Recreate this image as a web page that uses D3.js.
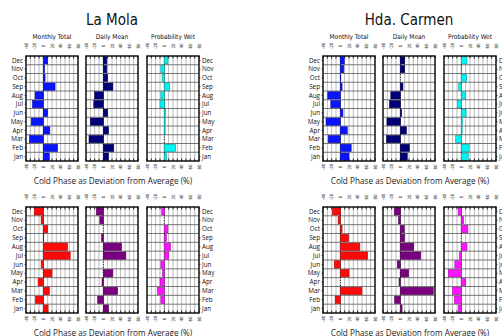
<!DOCTYPE html>
<html>
<head>
<meta charset="utf-8">
<script src="https://cdn.jsdelivr.net/npm/d3@7"></script>
<style>
  body { margin: 0; background: #fff; }
  svg { display: block; }
  .narrow { font-family: "Liberation Sans Narrow", "DejaVu Sans Condensed", "Roboto", sans-serif; }
  .reg { font-family: "Open Sans", "Liberation Sans", sans-serif; }
</style>
</head>
<body>
<svg id="chart" width="502" height="336"></svg>
<script>
// Months listed Jan..Dec; drawn with Dec at the top
const months = ["Jan","Feb","Mar","Apr","May","Jun","Jul","Aug","Sep","Oct","Nov","Dec"];
const tickValues = [-40, -20, 0, 20, 40, 60, 80];
const stations = ["La Mola", "Hda. Carmen"];
const panelTitles = ["Monthly Total", "Daily Mean", "Probability Wet"];
const axisTitle = "Cold Phase as Deviation from Average (%)";

// Upper row (Jan..Dec), deviation in %
const laMolaTotalA = [14, 33, -32, 15, -28, 10, -25, -19, 27, 4, 3, 10];
const laMolaMeanA  = [12, 24, -33, 12, -30, 10, -22, -20, 22, 10, 8, 8];
const laMolaWetA   = [5, 26, 0, 2, 2, 3, -10, -8, 12, -5, -8, 8];
const carmenTotalA = [20, 25, -28, 16, -33, 6, -22, -29, 4, 1, 8, 9];
const carmenMeanA  = [16, 21, -32, 14, -31, 3, -25, -22, 6, 0, 10, 10];
const carmenWetA   = [16, 18, -13, 2, 3, 11, -9, 9, -6, 12, 1, 13];

// Lower row (Jan..Dec), deviation in %
const laMolaTotalB = [11, -18, 14, -12, 20, -5, 62, 56, 1, 10, -5, -21];
const laMolaMeanB  = [12, -13, 33, -3, 22, 0, 52, 42, -4, 0, -8, -16];
const laMolaWetB   = [0, -8, -16, -10, -4, -8, 10, 14, 5, 8, 0, -6];
const carmenTotalB = [0, -12, 50, 0, 20, -14, 63, 45, 19, 4, -5, -18];
const carmenMeanB  = [4, -13, 76, -3, 19, -7, 47, 31, 10, 9, -4, -14];
const carmenWetB   = [-7, -16, -20, 10, -30, -15, -4, 13, 0, 15, 5, -7];

const colorsA = ["#0a14ff", "#000078", "#00f5f5"];
const colorsB = ["#ff0a0a", "#7a0080", "#ff14ff"];

const svg = d3.select("#chart");

const panelX = [[26, 78], [86, 138], [147, 199]];
const groupOffset = [0, 297];
const rows = [
  { top: 56, bottom: 161, colors: colorsA, title: true,
    data: [[laMolaTotalA, laMolaMeanA, laMolaWetA], [carmenTotalA, carmenMeanA, carmenWetA]] },
  { top: 207, bottom: 313, colors: colorsB, title: false,
    data: [[laMolaTotalB, laMolaMeanB, laMolaWetB], [carmenTotalB, carmenMeanB, carmenWetB]] }
];

const darker = c => d3.color(c).darker(1.2).formatHex();

rows.forEach(row => {
  groupOffset.forEach((gx, si) => {
    const g = svg.append("g").attr("transform", `translate(${gx},0)`);
    const y = d3.scaleBand().domain(months.slice().reverse())
      .range([row.top, row.bottom]).paddingInner(0.18).paddingOuter(0.09);
    const yEdge = d3.scaleBand().domain(months.slice().reverse())
      .range([row.top, row.bottom]).padding(0);

    if (row.title) {
      g.append("text").attr("class", "narrow")
        .attr("x", 112).attr("y", 25).attr("text-anchor", "middle")
        .attr("font-size", 15).attr("fill", "#111").text(stations[si]);
    }

    panelX.forEach((px, pi) => {
      const x = d3.scaleLinear().domain([-40, 80]).range(px);
      const values = row.data[si][pi];
      const color = row.colors[pi];
      const p = g.append("g");

      if (row.title) {
        p.append("text").attr("class", "narrow")
          .attr("x", (px[0] + px[1]) / 2).attr("y", 39).attr("text-anchor", "middle")
          .attr("font-size", 6.5).attr("fill", "#111").text(panelTitles[pi]);
      }

      // grid: vertical every 10 %, horizontal at month boundaries
      const gridV = d3.range(-30, 80, 10);
      p.selectAll(".gv").data(gridV).join("line")
        .attr("x1", d => x(d)).attr("x2", d => x(d))
        .attr("y1", row.top).attr("y2", row.bottom)
        .attr("stroke", "#a8a8a8").attr("stroke-width", 0.8);
      p.selectAll(".gh").data(months.slice(1)).join("line")
        .attr("x1", px[0]).attr("x2", px[1])
        .attr("y1", d => yEdge(d) + yEdge.bandwidth()).attr("y2", d => yEdge(d) + yEdge.bandwidth())
        .attr("stroke", "#555").attr("stroke-width", 0.8);

      // inner ticks along top and bottom edges
      const tk = d3.range(-40, 81, 10);
      p.selectAll(".tt").data(tk).join("line")
        .attr("x1", d => x(d)).attr("x2", d => x(d))
        .attr("y1", row.top).attr("y2", row.top + 2.5)
        .attr("stroke", "#000").attr("stroke-width", 0.8);
      p.selectAll(".tb").data(tk).join("line")
        .attr("x1", d => x(d)).attr("x2", d => x(d))
        .attr("y1", row.bottom - 2.5).attr("y2", row.bottom)
        .attr("stroke", "#000").attr("stroke-width", 0.8);

      // zero reference
      p.append("line")
        .attr("x1", x(0)).attr("x2", x(0)).attr("y1", row.top).attr("y2", row.bottom)
        .attr("stroke", "#000").attr("stroke-width", 1).attr("stroke-dasharray", "1,1.6");

      // bars
      p.selectAll(".bar").data(months.map((m, i) => ({ m, v: values[i] }))).join("rect")
        .attr("x", d => x(Math.min(0, d.v)))
        .attr("width", d => Math.abs(x(d.v) - x(0)))
        .attr("y", d => y(d.m)).attr("height", y.bandwidth())
        .attr("fill", color)
        .attr("stroke", d => d.v === 0 ? "none" : darker(color)).attr("stroke-width", 0.6);

      // frame
      p.append("rect").attr("x", px[0]).attr("y", row.top)
        .attr("width", px[1] - px[0]).attr("height", row.bottom - row.top)
        .attr("fill", "none").attr("stroke", "#000").attr("stroke-width", 1.4);

      // rotated tick labels above and below
      [row.top - 10, row.bottom + 6].forEach(cy => {
        p.selectAll(null).data(tickValues).join("text")
          .attr("class", "narrow")
          .attr("transform", d => `translate(${x(d) + 1.6},${cy}) rotate(-90)`)
          .attr("text-anchor", "middle").attr("font-size", 4.5).attr("fill", "#222")
          .text(d => d);
      });

      // month labels outside first and last panel
      if (pi === 0 || pi === 2) {
        const left = pi === 0;
        p.selectAll(null).data(months).join("text")
          .attr("class", "reg")
          .attr("x", left ? px[0] - 3 : px[1] + 3)
          .attr("y", d => yEdge(d) + yEdge.bandwidth() / 2 + 2.2)
          .attr("text-anchor", left ? "end" : "start")
          .attr("font-size", 6.3).attr("fill", "#111").text(d => d);
        p.selectAll(null).data(months).join("line")
          .attr("x1", left ? px[0] - 1.5 : px[1]).attr("x2", left ? px[0] : px[1] + 1.5)
          .attr("y1", d => yEdge(d) + yEdge.bandwidth() / 2)
          .attr("y2", d => yEdge(d) + yEdge.bandwidth() / 2)
          .attr("stroke", "#000").attr("stroke-width", 0.6);
      }
    });

    g.append("text").attr("class", "reg")
      .attr("x", 113).attr("y", row.bottom + 23).attr("text-anchor", "middle")
      .attr("font-size", 8.2).attr("fill", "#222").text(axisTitle);
  });
});
</script>
</body>
</html>
